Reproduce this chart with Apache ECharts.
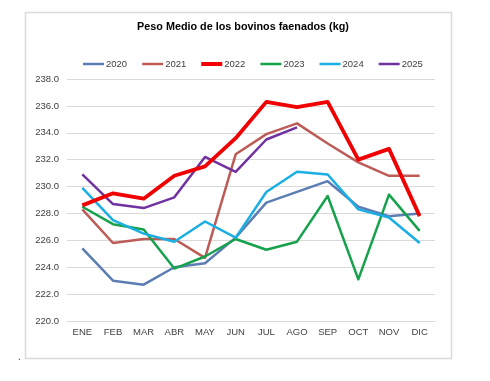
<!DOCTYPE html>
<html><head><meta charset="utf-8">
<script src="https://cdn.jsdelivr.net/npm/echarts@6/dist/echarts.min.js"></script>
<style>html,body{margin:0;padding:0;background:#fff}#c{width:490px;height:381px}</style>
</head><body><div id="c"></div>
<script>
const months = ['ENE','FEB','MAR','ABR','MAY','JUN','JUL','AGO','SEP','OCT','NOV','DIC'];
const s2020 = [225.4,223.0,222.7,224.0,224.3,226.2,228.8,229.6,230.4,228.5,227.8,228.0];
const s2021 = [228.3,225.8,226.1,226.1,224.7,232.4,233.9,234.7,233.2,231.8,230.8,230.8];
const s2022 = [228.6,229.5,229.1,230.8,231.5,233.6,236.3,235.9,236.3,232.0,232.8,227.8];
const s2023 = [228.5,227.2,226.8,223.9,224.8,226.1,225.3,225.9,229.3,223.1,229.4,226.7];
const s2024 = [229.9,227.5,226.5,225.9,227.4,226.2,229.6,231.1,230.9,228.3,227.7,225.8];
const s2025 = [230.9,228.7,228.4,229.2,232.2,231.1,233.5,234.4];
const seriesNames = ['2020','2021','2022','2023','2024','2025'];
const seriesData = [s2020,s2021,s2022,s2023,s2024,s2025];
const colors = ['#5B7DB3','#BD5B57','#F00000','#16A24C','#1AAEE3','#7032A0'];
const widths = [2.5,2.5,3.8,2.5,2.5,2.5];

const chart = echarts.init(document.getElementById('c'));
chart.setOption({
  animation:false,
  title:{text:'Peso Medio de los bovinos faenados (kg)',left:238,textAlign:'center',top:17,
    textStyle:{fontFamily:'Liberation Sans',fontSize:10.8,fontWeight:'bold',color:'#000'}},
  legend:{left:78,top:54,itemWidth:21,itemHeight:8,itemGap:15,
    data:seriesNames.map((n,i)=>({name:n,icon:'path://M0,0h21v'+(i===2?4:2.5)+'h-21z'})),
    textStyle:{fontFamily:'Liberation Sans',fontSize:9.5,color:'#404040',padding:[0,0,0,-3]}},
  grid:{left:67,right:55,top:79,bottom:60},
  xAxis:{type:'category',data:months,boundaryGap:true,
    axisLine:{show:true,lineStyle:{color:'#D9D9D9'}},axisTick:{show:false},
    axisLabel:{fontFamily:'Liberation Sans',fontSize:9.5,color:'#404040',margin:6}},
  yAxis:{type:'value',min:220,max:238,interval:2,
    axisLabel:{fontFamily:'Liberation Sans',fontSize:9.5,color:'#404040',margin:8,formatter:v=>v.toFixed(1)},
    splitLine:{lineStyle:{color:'#D9D9D9',width:1}},axisLine:{show:false},axisTick:{show:false}},
  series:seriesNames.map((n,i)=>({name:n,type:'line',data:seriesData[i],symbol:'none',
    color:colors[i],lineStyle:{width:widths[i],color:colors[i],join:'round'},z:i===2?5:2})),
  graphic:[
    {type:'rect',shape:{x:25.5,y:12.5,width:426,height:346},style:{fill:'none',stroke:'#D9D9D9',lineWidth:1.5},silent:true},
    {type:'text',left:18,top:352,style:{text:'.',fill:'#404040',font:'10px Liberation Sans'}}
  ]
});
</script></body></html>
